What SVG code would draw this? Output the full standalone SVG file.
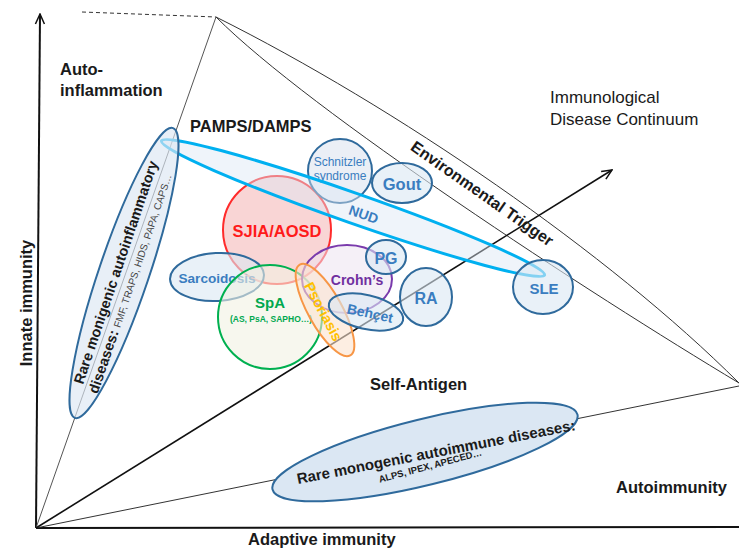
<svg xmlns="http://www.w3.org/2000/svg" width="739" height="551" viewBox="0 0 739 551">
<defs>
<style>
.t{font-family:"Liberation Sans",Arial,sans-serif;fill:#1a1a1a}
.b{font-weight:bold}
.ln{fill:none;stroke:#333;stroke-width:1}
.bl{fill:#dbe7f3;fill-opacity:0.6;stroke:#2f6a9c;stroke-width:2}
.bt{font-family:"Liberation Sans",Arial,sans-serif;fill:#3a7dc0}
</style>
<marker id="ah" viewBox="0 0 12 12" refX="11" refY="6" markerWidth="12" markerHeight="12" markerUnits="userSpaceOnUse" orient="auto">
<path d="M1,1.5 L11,6 L1,10.5" fill="none" stroke="#111" stroke-width="1.5"/>
</marker>
</defs>
<rect width="739" height="551" fill="#fff"/>

<g id="connectors">
<line x1="36" y1="528" x2="40" y2="14" stroke="#111" stroke-width="2" marker-end="url(#ah)"/>
<line x1="36" y1="528" x2="739" y2="527" stroke="#111" stroke-width="2"/>
<line x1="82" y1="12" x2="216" y2="17" stroke="#333" stroke-width="1" stroke-dasharray="4,3"/>
<line x1="216" y1="17" x2="36" y2="528" stroke="#555" stroke-width="1"/>
<path class="ln" d="M216,17 C396,107 609,253 739,383"/>
<path class="ln" d="M216,17 C311,112 589,293 739,383"/>
<line x1="36" y1="528" x2="739" y2="386" stroke="#333" stroke-width="1"/>
<line x1="36" y1="528" x2="612" y2="170" stroke="#111" stroke-width="1.6" marker-end="url(#ah)"/>
</g>

<g id="labels">
<text class="t b" x="60" y="75" font-size="16.5">Auto-</text>
<text class="t b" x="60" y="96" font-size="16.5">inflammation</text>
<text class="t b" x="190" y="132" font-size="16.5">PAMPS/DAMPS</text>
<text class="t" x="550" y="103" font-size="17" fill="#111">Immunological</text>
<text class="t" x="550" y="125" font-size="17" fill="#111">Disease Continuum</text>
<text class="t b" font-size="16" text-anchor="middle" transform="translate(479,198) rotate(35)">Environmental Trigger</text>
<text class="t b" x="370" y="390" font-size="16.5">Self-Antigen</text>
<text class="t b" x="616" y="493" font-size="16.5">Autoimmunity</text>
<text class="t b" x="248" y="545" font-size="16.5">Adaptive immunity</text>
<text class="t b" font-size="16.5" text-anchor="middle" transform="translate(32,303) rotate(-90)">Innate immunity</text>
</g>

<g id="sjia">
<circle cx="277" cy="230" r="54" fill="#f6c3c3" fill-opacity="0.7" stroke="#ff2b2b" stroke-width="2"/>
<text x="277" y="237" font-family="Liberation Sans,Arial,sans-serif" font-weight="bold" font-size="16.5" fill="#ff1a1a" text-anchor="middle">SJIA/AOSD</text>
</g>

<g id="schnitzler">
<circle cx="340" cy="171" r="32" fill="#e3e8f2" fill-opacity="0.7" stroke="#2f6a9c" stroke-width="2"/>
<text class="bt" x="340" y="166" font-size="12" text-anchor="middle">Schnitzler</text>
<text class="bt" x="340" y="180" font-size="12" text-anchor="middle">syndrome</text>
</g>

<g id="nud">
<ellipse cx="353" cy="208" rx="203" ry="15" transform="rotate(19.3 353 208)" fill="#dbe7f3" fill-opacity="0.45" stroke="#00b0f0" stroke-width="3"/>
<text class="bt b" font-size="14" text-anchor="middle" transform="translate(362,219) rotate(19)">NUD</text>
</g>

<g id="rare-autoinflammatory">
<ellipse cx="124" cy="273" rx="153" ry="25" transform="rotate(-71.3 124 273)" fill="#dbe7f3" fill-opacity="0.65" stroke="#2f6a9c" stroke-width="2"/>
<g transform="translate(124,273) rotate(-71.3)">
<text class="t b" x="-2" y="-3" font-size="14.5" text-anchor="middle">Rare monigenic autoinflammatory</text>
<text class="t" x="-8" y="14" text-anchor="middle"><tspan class="b" font-size="14.5">diseases: </tspan><tspan font-size="10" fill="#444">FMF, TRAPS, HIDS, PAPA, CAPS…</tspan></text>
</g>
</g>

<g id="gout">
<ellipse cx="402" cy="183" rx="30" ry="20" class="bl"/>
<text class="bt b" x="402" y="190" font-size="16.5" text-anchor="middle">Gout</text>
</g>

<g id="sarcoidosis">
<ellipse cx="217" cy="277" rx="47" ry="24" transform="rotate(-3 217 277)" class="bl" fill-opacity="0.45"/>
<text class="bt b" x="217" y="283" font-size="13.6" text-anchor="middle">Sarcoidosis</text>
</g>

<g id="spa">
<circle cx="270" cy="317" r="52" fill="#f2f1e2" fill-opacity="0.6" stroke="#00b050" stroke-width="2"/>
<text x="270" y="308" font-family="Liberation Sans,Arial,sans-serif" font-weight="bold" font-size="15" fill="#00a84f" text-anchor="middle">SpA</text>
<text x="271" y="322" font-family="Liberation Sans,Arial,sans-serif" font-weight="bold" font-size="8.5" fill="#00a84f" text-anchor="middle">(AS, PsA, SAPHO…)</text>
</g>

<g id="crohns">
<ellipse cx="347" cy="279" rx="45" ry="34" fill="#ece3f1" fill-opacity="0.55" stroke="#7a3aac" stroke-width="2"/>
<text x="357" y="285" font-family="Liberation Sans,Arial,sans-serif" font-weight="bold" font-size="14" fill="#7030a0" text-anchor="middle">Crohn’s</text>
</g>

<g id="pg">
<ellipse cx="386" cy="257" rx="20" ry="17" class="bl" fill-opacity="0.5"/>
<text class="bt b" x="386" y="264" font-size="16" text-anchor="middle">PG</text>
</g>

<g id="psoriasis">
<ellipse cx="325" cy="310" rx="52" ry="17" transform="rotate(61 325 310)" fill="#fbe2cf" fill-opacity="0.6" stroke="#f79646" stroke-width="2"/>
<text font-family="Liberation Sans,Arial,sans-serif" font-weight="bold" font-size="14.5" fill="#ffc000" text-anchor="middle" transform="translate(319,314) rotate(62)">Psoriasis</text>
</g>

<g id="behcet">
<ellipse cx="366" cy="312" rx="38" ry="17" transform="rotate(13 366 312)" class="bl" fill-opacity="0.55"/>
<text class="bt b" font-size="14" text-anchor="middle" transform="translate(369,318) rotate(12)">Behçet</text>
</g>

<g id="ra">
<ellipse cx="426" cy="297" rx="26" ry="29" class="bl" fill-opacity="0.6"/>
<text class="bt b" x="426" y="304" font-size="16" text-anchor="middle">RA</text>
</g>

<g id="sle">
<ellipse cx="543" cy="287" rx="30" ry="27" class="bl" fill-opacity="0.6"/>
<text class="bt b" x="544" y="294" font-size="15" text-anchor="middle">SLE</text>
</g>

<g id="rare-autoimmune">
<ellipse cx="425" cy="452" rx="157" ry="33" transform="rotate(-13.8 425 452)" fill="#dbe7f3" stroke="#2f6a9c" stroke-width="2"/>
<text class="t b" font-size="15" text-anchor="middle" transform="translate(437,457) rotate(-11)">Rare monogenic autoimmune diseases:</text>
<text class="t b" font-size="9.5" text-anchor="middle" transform="translate(431,469) rotate(-15)">ALPS, IPEX, APECED…</text>
</g>
</svg>
